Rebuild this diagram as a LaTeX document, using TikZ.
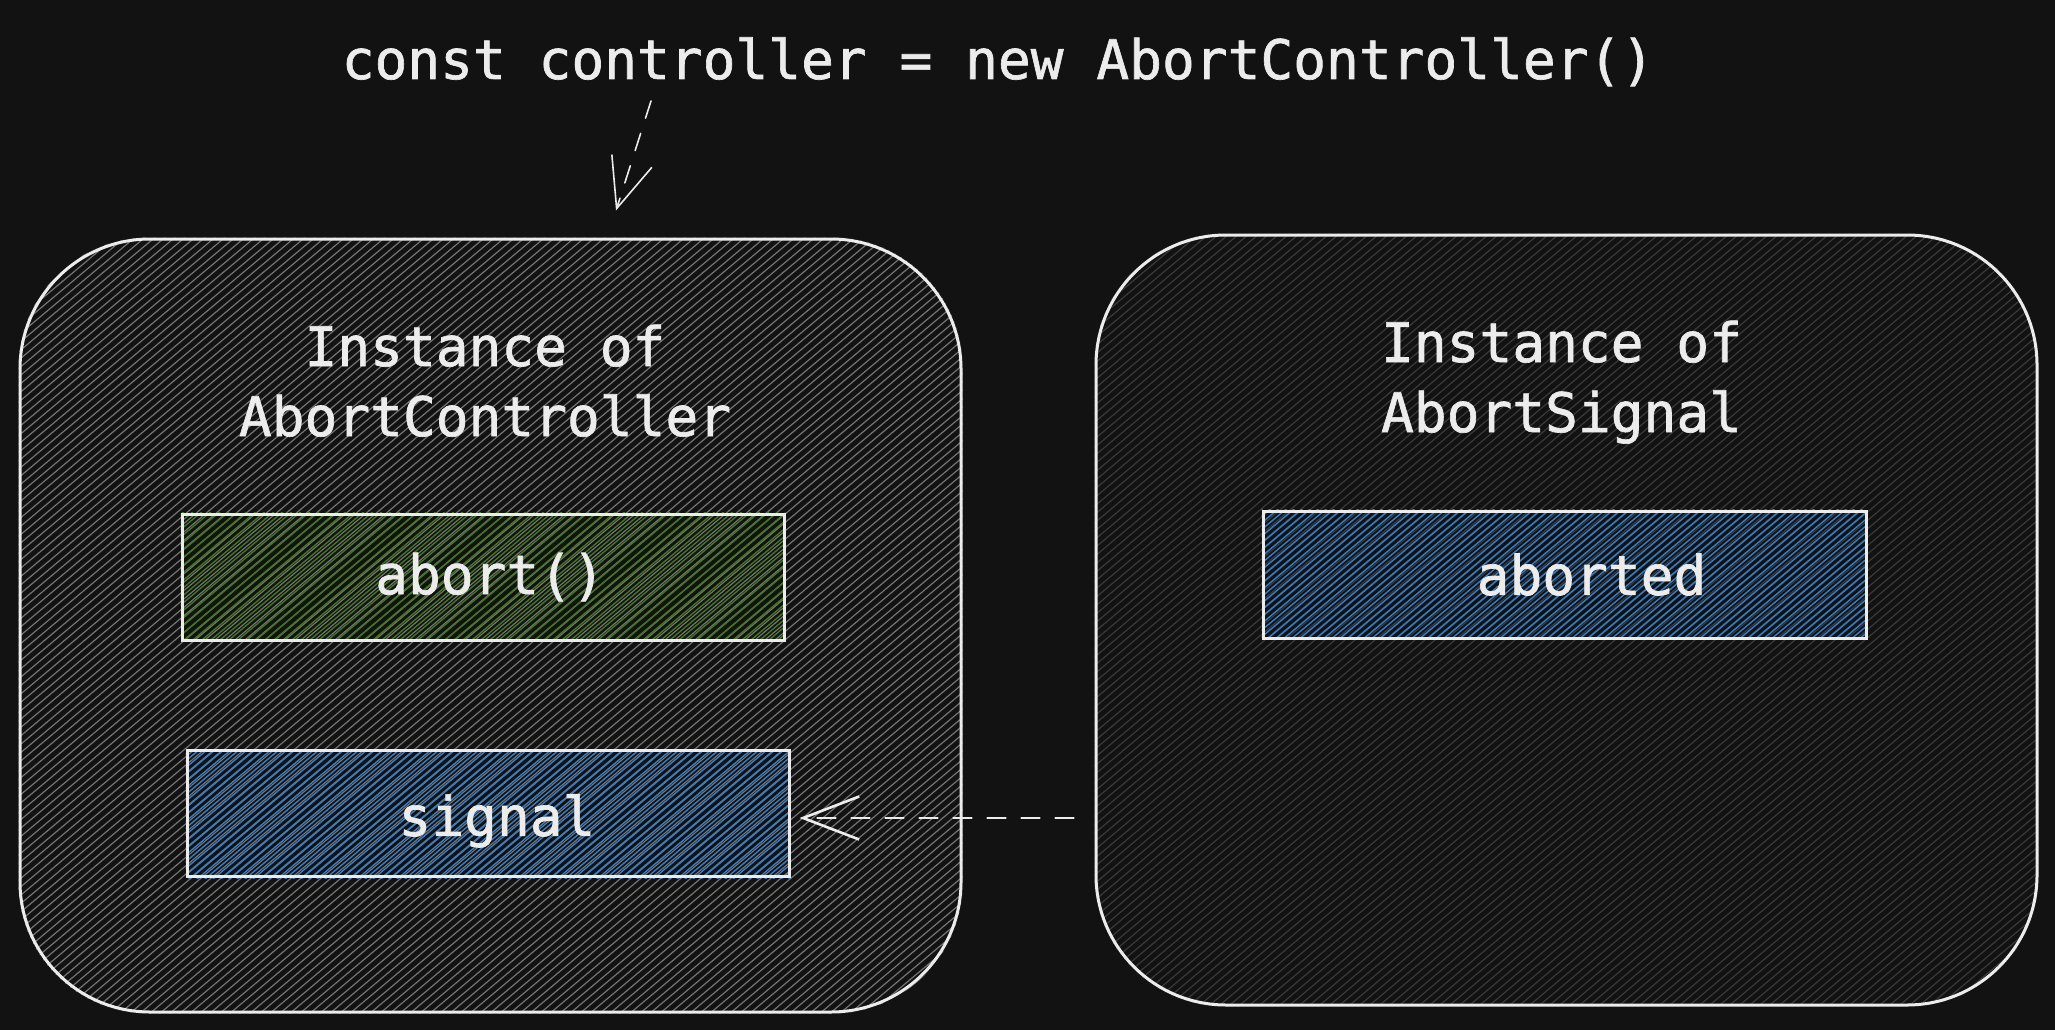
\documentclass[tikz,border=0pt]{standalone}
\usepackage{fontspec}
\setmonofont[FakeBold=1.2]{DejaVu Sans Mono}
\usetikzlibrary{arrows.meta,calc}
\definecolor{bg}{HTML}{121212}
\definecolor{ink}{HTML}{ECECEC}
\definecolor{hatchL}{HTML}{747474}
\definecolor{hatchR}{HTML}{3A3A3A}
\definecolor{hgreen}{HTML}{3E7A18}
\definecolor{hblue}{HTML}{2F80D2}
\pgfdeclarelayer{back}
\pgfsetlayers{back,main}
\tikzset{
  container/.style={draw=ink, line width=3pt, rounded corners=130pt,
    minimum width=941pt, minimum height=773pt, inner sep=0pt},
  field/.style={draw=ink, line width=3pt, minimum width=602pt,
    minimum height=126pt, inner sep=0pt, text=ink},
  lbl/.style={text=ink, inner sep=0pt},
  dasharr/.style={draw=ink, dash pattern=on 18pt off 16pt, line cap=round},
  hatchline/.style={line width=1.2pt, line cap=butt},
}
\begin{document}
\begin{tikzpicture}[x=1pt,y=-1pt,font=\ttfamily\fontsize{54.5}{70}\selectfont]
\useasboundingbox (0,0) rectangle (2055,1030);

% containers
\node[container] (lc) at (490.5,625.5) {};
\node[container, minimum height=770pt] (rc) at (1566.5,620) {};

% container titles (anchor base = baseline of last line)
\node[lbl, align=center, anchor=base] (lct) at (485,436) {Instance of\\AbortController};
\node[lbl, align=center, anchor=base] (rct) at (1561.5,432) {Instance of\\AbortSignal};

% fields
\node[field] (abort) at (483,577) {\hspace*{14pt}abort()};
\node[field, text height=44.6pt, text depth=0pt] (signal) at (488,813.5) {\hspace*{18pt}signal};
\node[field, minimum width=603pt, minimum height=127pt] (aborted) at (1564.5,574.5) {\hspace*{54pt}aborted};

% top code line
\node[lbl, anchor=base] (title) at (998,79) {const controller = new AbortController()};

% connectors
\draw[dasharr, line width=1.6pt, -{Straight Barb[length=50pt,width=42pt]}]
  ([shift={(-347,22)}]title.base) -- ([shift={(125.5,-27)}]lc.north);
\coordinate (sigtip) at ([shift={(9,4.5)}]signal.east);
\draw[dasharr, line width=2.6pt, -{Straight Barb[length=56pt,width=43pt]}]
  ($(rc.west |- sigtip)+(-21,0)$) -- (sigtip);

% background and hatching
\begin{pgfonlayer}{back}
  \fill[bg] (0,0) rectangle (2055,1030);
  \begin{scope}
    \clip[rounded corners=130pt] (lc.north west) rectangle (lc.south east);
    \foreach \c in {-1240,-1230,...,980} \draw[hatchL, hatchline] (\c,1030) -- ++(1228,-1030);
  \end{scope}
  \begin{scope}
    \clip[rounded corners=130pt] (rc.north west) rectangle (rc.south east);
    \foreach \c in {-140,-130,...,2060} \draw[hatchR, hatchline] (\c,1030) -- ++(1228,-1030);
  \end{scope}
  \begin{scope}
    \clip (abort.north west) rectangle (abort.south east);
    \foreach \c in {-1055,-1046,...,800} \draw[hgreen, hatchline, line width=1.4pt] (\c,1030) -- ++(1228,-1030);
  \end{scope}
  \begin{scope}
    \clip (signal.north west) rectangle (signal.south east);
    \foreach \c in {-1055,-1047,...,800} \draw[hblue, hatchline, line width=1.4pt] (\c,1030) -- ++(1228,-1030);
  \end{scope}
  \begin{scope}
    \clip (aborted.north west) rectangle (aborted.south east);
    \foreach \c in {25,33,...,1880} \draw[hblue, hatchline, line width=1.4pt] (\c,1030) -- ++(1228,-1030);
  \end{scope}
\end{pgfonlayer}
\end{tikzpicture}
\end{document}
